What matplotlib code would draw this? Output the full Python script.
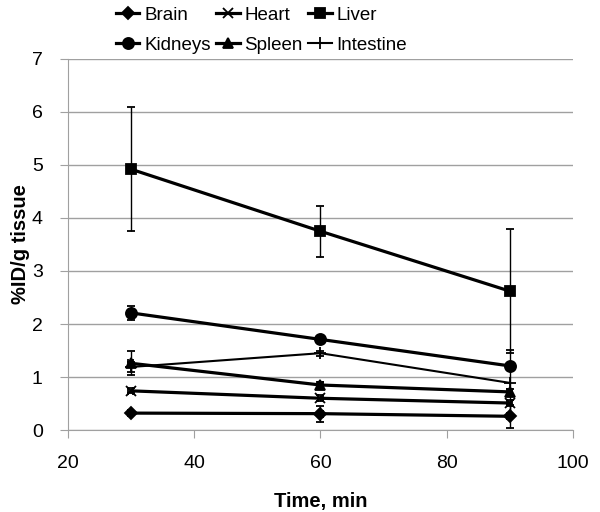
import matplotlib
matplotlib.use("Agg")
import matplotlib.pyplot as plt

plt.rcParams['font.family'] = ['Liberation Sans', 'DejaVu Sans']

times = [30, 60, 90]
organs = ["Brain", "Heart", "Liver", "Kidneys", "Spleen", "Intestine"]
brain = [0.32, 0.31, 0.26]
brain_err = [0.04, 0.15, 0.22]
heart = [0.74, 0.60, 0.51]
heart_err = [0.05, 0.06, 0.05]
liver = [4.92, 3.75, 2.62]
liver_err = [1.17, 0.48, 1.17]
kidneys = [2.21, 1.71, 1.21]
kidneys_err = [0.13, 0.04, 0.06]
spleen = [1.26, 0.85, 0.72]
spleen_err = [0.23, 0.05, 0.06]
intestine = [1.19, 1.45, 0.89]
intestine_err = [0.10, 0.05, 0.62]
time_err = 0.4

values = [brain, heart, liver, kidneys, spleen, intestine]
errors = [brain_err, heart_err, liver_err, kidneys_err, spleen_err, intestine_err]
markers = ["D", "x", "s", "o", "^", "+"]
msizes = [6, 6.5, 7.5, 8, 7.5, 9]

fig = plt.figure(figsize=(6, 5.12), dpi=100)
ax = fig.add_axes([0.113, 0.160, 0.842, 0.725])

handles = {}
for name, y, e, m, ms in zip(organs, values, errors, markers, msizes):
    lw = 1.5 if name == "Intestine" else 2.3
    xe = None if name == "Intestine" else time_err
    c = ax.errorbar(times, y, yerr=e, xerr=xe, color="black", lw=lw,
                    marker=m, ms=ms, mew=1.3, ecolor="black", elinewidth=1,
                    capsize=3, capthick=1, zorder=3)
    handles[name] = c[0]

ax.set_xlim(20, 100)
ax.set_ylim(0, 7)
ax.set_xticks([20, 40, 60, 80, 100])
ax.set_yticks(range(8))
ax.yaxis.grid(True, color="#a0a0a0", lw=1)
ax.set_axisbelow(True)
for s in ["top", "right"]:
    ax.spines[s].set_visible(False)
ax.spines["left"].set_color("#a0a0a0")
ax.spines["bottom"].set_color("#a0a0a0")
ax.tick_params(axis="both", colors="#a0a0a0", labelcolor="black", labelsize=14, length=6)
ax.tick_params(axis="x", pad=12)
ax.tick_params(axis="y", pad=12)
ax.set_xlabel("Time, min", fontsize=14.5, fontweight="bold", labelpad=14)
ax.set_ylabel("%ID/g tissue", fontsize=14.5, fontweight="bold", labelpad=1)

order = ["Brain", "Kidneys", "Heart", "Spleen", "Liver", "Intestine"]
fig.legend([handles[n] for n in order], order, ncol=3, loc="upper left",
           bbox_to_anchor=(0.165, 1.02), frameon=False, fontsize=13.5,
           handlelength=1.25, handletextpad=0.25, columnspacing=0.3,
           labelspacing=0.7)

fig.savefig("out.png", dpi=100)
